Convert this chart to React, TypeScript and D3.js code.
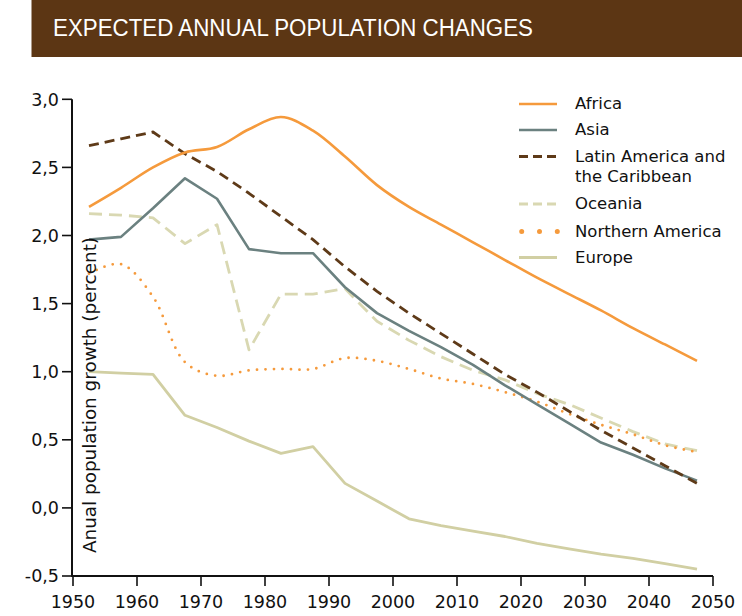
import React from "react";
import * as d3 from "d3";

const years = [1952.5, 1957.5, 1962.5, 1967.5, 1972.5, 1977.5, 1982.5, 1987.5, 1992.5, 1997.5, 2002.5, 2007.5, 2012.5, 2017.5, 2022.5, 2027.5, 2032.5, 2037.5, 2042.5, 2047.5];

const africa = [2.21, 2.35, 2.5, 2.61, 2.65, 2.78, 2.87, 2.77, 2.58, 2.37, 2.21, 2.08, 1.95, 1.82, 1.69, 1.57, 1.45, 1.32, 1.2, 1.08];
const asia = [1.97, 1.99, 2.2, 2.42, 2.27, 1.9, 1.87, 1.87, 1.62, 1.43, 1.3, 1.18, 1.05, 0.9, 0.76, 0.62, 0.48, 0.39, 0.29, 0.2];
const latinAmerica = [2.66, 2.71, 2.76, 2.6, 2.47, 2.31, 2.14, 1.97, 1.77, 1.59, 1.43, 1.28, 1.13, 0.98, 0.85, 0.71, 0.57, 0.44, 0.31, 0.18];
const oceania = [2.16, 2.15, 2.13, 1.94, 2.08, 1.16, 1.57, 1.57, 1.61, 1.37, 1.23, 1.11, 1.01, 0.94, 0.84, 0.76, 0.66, 0.56, 0.47, 0.42];
const northernAmerica = [1.72, 1.79, 1.55, 1.07, 0.97, 1.01, 1.02, 1.02, 1.1, 1.08, 1.02, 0.95, 0.91, 0.85, 0.78, 0.69, 0.61, 0.54, 0.46, 0.41];
const europe = [1.0, 0.99, 0.98, 0.68, 0.59, 0.49, 0.4, 0.45, 0.18, 0.05, -0.08, -0.13, -0.17, -0.21, -0.26, -0.3, -0.34, -0.37, -0.41, -0.45];

const xTicks = [1950, 1960, 1970, 1980, 1990, 2000, 2010, 2020, 2030, 2040, 2050];
const yTicks = [-0.5, 0, 0.5, 1, 1.5, 2, 2.5, 3];

const title = "EXPECTED ANNUAL POPULATION CHANGES";
const yLabel = "Anual population growth (percent)";

type Series = {
  name: string[];
  values: number[];
  color: string;
  width: number;
  dash?: string;
  cap?: "round" | "butt";
  smooth?: boolean;
  legendDash?: string;
  legendWidth?: number;
};

const series: Series[] = [
  { name: ["Africa"], values: africa, color: "#F59A3C", width: 2.6, smooth: true },
  { name: ["Asia"], values: asia, color: "#6B8180", width: 2.6 },
  { name: ["Latin America and", "the Caribbean"], values: latinAmerica, color: "#5E3A18", width: 2.8, dash: "10 6", legendDash: "9 5" },
  { name: ["Oceania"], values: oceania, color: "#D9D8B2", width: 2.8, dash: "13 7", legendDash: "9 5" },
  { name: ["Northern America"], values: northernAmerica, color: "#F59A3C", width: 2.8, dash: "0 8.5", cap: "round", smooth: true, legendDash: "0 17.8", legendWidth: 5 },
  { name: ["Europe"], values: europe, color: "#D1CFA3", width: 2.8 },
];

const drawOrder = [5, 3, 4, 1, 2, 0];

const FONT = "'DejaVu Sans', Verdana, sans-serif";

export default function App() {
  const x = d3.scaleLinear().domain([1950, 2050]).range([73, 713]);
  const y = d3.scaleLinear().domain([-0.5, 3.0]).range([576, 99.3]);

  const makeLine = (s: Series) =>
    d3
      .line<number>()
      .x((_, i) => x(years[i]))
      .y((v) => y(v))
      .curve(s.smooth ? d3.curveCatmullRom.alpha(0.5) : d3.curveLinear)(s.values) || "";

  const legendBaselines = [[109], [135], [161.5, 181.5], [209], [236.5], [262.5]];

  return (
    <svg
      width={742}
      height={616}
      style={{ position: "absolute", left: 0, top: 0, background: "#fff" }}
      fontFamily={FONT}
    >
      {/* Title banner */}
      <rect x={31.5} y={0} width={742 - 31.5} height={57} fill="#5C3614" />
      <text
        x={53}
        y={36}
        fill="#fff"
        fontSize={23}
        fontFamily="'Liberation Sans Narrow', 'Liberation Sans', Arial, sans-serif"
        textLength={480}
        lengthAdjust="spacingAndGlyphs"
      >
        {title}
      </text>

      {/* Lines */}
      {drawOrder.map((k) => {
        const s = series[k];
        return (
          <path
            key={k}
            d={makeLine(s)}
            fill="none"
            stroke={s.color}
            strokeWidth={s.width}
            strokeDasharray={s.dash}
            strokeLinecap={s.cap || "butt"}
            strokeLinejoin="round"
          />
        );
      })}

      {/* Y axis label */}
      <text
        transform="translate(96,553) rotate(-90)"
        fontSize={17.5}
        fill="#111"
        textLength={316}
        lengthAdjust="spacingAndGlyphs"
      >
        {yLabel}
      </text>

      {/* Axes */}
      <line x1={72} y1={y(3.0)} x2={72} y2={577} stroke="#111" strokeWidth={2} />
      <line x1={71} y1={576} x2={x(2050)} y2={576} stroke="#111" strokeWidth={2} />
      {yTicks.map((t) => (
        <g key={"y" + t}>
          <line x1={62} x2={72} y1={y(t)} y2={y(t)} stroke="#111" strokeWidth={1.6} />
          <text x={59} y={y(t)} dy="0.36em" textAnchor="end" fontSize={17.5} fill="#111">
            {d3.format(".1f")(t).replace(".", ",").replace("−", "-")}
          </text>
        </g>
      ))}
      {xTicks.map((t) => (
        <g key={"x" + t}>
          <line x1={x(t)} x2={x(t)} y1={576} y2={586} stroke="#111" strokeWidth={1.6} />
          <text x={x(t)} y={608} textAnchor="middle" fontSize={17.5} fill="#111">
            {t}
          </text>
        </g>
      ))}

      {/* Legend */}
      {series.map((s, i) => {
        const base = legendBaselines[i];
        const ly = base[0] - 5;
        return (
          <g key={"lg" + i}>
            <line
              x1={s.cap === "round" ? 521.7 : 519}
              x2={s.cap === "round" ? 557.5 : 557}
              y1={ly}
              y2={ly}
              stroke={s.color}
              strokeWidth={s.legendWidth || s.width}
              strokeDasharray={s.legendDash || s.dash}
              strokeLinecap={s.cap || "butt"}
            />
            {s.name.map((n, j) => (
              <text key={j} x={575} y={base[j]} fontSize={16.5} fill="#111">
                {n}
              </text>
            ))}
          </g>
        );
      })}
    </svg>
  );
}
